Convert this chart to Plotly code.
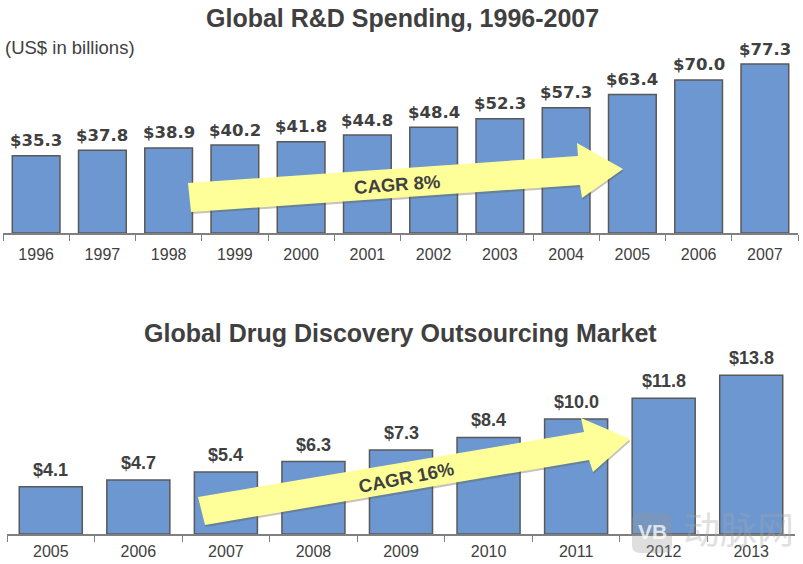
import plotly.graph_objects as go

W, H = 803, 564

rd_years = ["1996","1997","1998","1999","2000","2001","2002","2003","2004","2005","2006","2007"]
rd_values = [35.3,37.8,38.9,40.2,41.8,44.8,48.4,52.3,57.3,63.4,70.0,77.3]
market_years = ["2005","2006","2007","2008","2009","2010","2011","2012","2013"]
market_values = [4.1,4.7,5.4,6.3,7.3,8.4,10.0,11.8,13.8]

TEXT = "#404040"
BAR = "#6C97D0"
EDGE = "#595959"
ARROW = "#FFFF99"

def px(x):
    return x / W
def py(y):
    return 1 - y / H
def poly(points, **kw):
    path = "M " + " L ".join(f"{px(x):.5f},{py(y):.5f}" for x, y in points) + " Z"
    return dict(type="path", xref="paper", yref="paper", path=path, **kw)
def shifted(points, d=2):
    return [(x + d * 0.3, y + d) for x, y in points]
def rounded(x0, y0, x1, y1, r, **kw):
    p = lambda x, y: f"{px(x):.5f},{py(y):.5f}"
    path = (f"M {p(x0+r,y0)} L {p(x1-r,y0)} Q {p(x1,y0)} {p(x1,y0+r)} L {p(x1,y1-r)} Q {p(x1,y1)} {p(x1-r,y1)} "
            f"L {p(x0+r,y1)} Q {p(x0,y1)} {p(x0,y1-r)} L {p(x0,y0+r)} Q {p(x0,y0)} {p(x0+r,y0)} Z")
    return dict(type="path", xref="paper", yref="paper", path=path, **kw)
def note(text, x, y, size, bold=False, color=TEXT, xanchor="center", angle=0, opacity=1, family="Liberation Sans"):
    return dict(text=f"<b>{text}</b>" if bold else text, x=px(x), y=py(y), xref="paper", yref="paper",
                xanchor=xanchor, yanchor="middle", showarrow=False, textangle=angle, opacity=opacity,
                font=dict(family=family, size=size, color=color))
def value_labels(ys, xa, ya, size, family, shift):
    return [dict(text=f"<b>${v:.1f}</b>", x=i, y=v, xref=xa, yref=ya, yshift=shift, showarrow=False,
                 xanchor="center", yanchor="middle", font=dict(family=family, size=size, color=TEXT))
            for i, v in enumerate(ys)]

arrow_top = [(188,183),(578,156),(577,143),(623,169),(582,198),(580,185),(191,212)]
arrow_bottom = [(198,497),(584,432),(581,418),(630,439),(593,472),(589,460),(205,525)]

def bars(x, y, xa, ya):
    return go.Bar(x=x, y=y, xaxis=xa, yaxis=ya, cliponaxis=False,
                  marker=dict(color=BAR, line=dict(color=EDGE, width=1.5)), showlegend=False, hoverinfo="skip")

fig = go.Figure()
fig.add_trace(bars(rd_years, rd_values, "x", "y"))
fig.add_trace(bars(market_years, market_values, "x2", "y2"))

axis_x = dict(type="category", tickson="boundaries", ticks="outside", ticklen=6, tickwidth=1.2,
              tickcolor="#7F7F7F", showline=True, linecolor="#7F7F7F", linewidth=1.5,
              showgrid=False, zeroline=False, fixedrange=True, tickangle=0)
axis_y = dict(visible=False, showgrid=False, zeroline=False, fixedrange=True)

fig.update_layout(
    width=W, height=H, margin=dict(l=0, r=0, t=0, b=0), autosize=False,
    paper_bgcolor="white", plot_bgcolor="white", bargap=0.28, showlegend=False,
    xaxis=dict(axis_x, domain=[px(3), px(798)], anchor="y", ticklabelstandoff=6,
               range=[-0.5, len(rd_years) - 0.5],
               tickfont=dict(family="Liberation Sans", size=16, color=TEXT)),
    yaxis=dict(axis_y, domain=[py(233), py(50)], range=[0, 183 / 2.186]),
    xaxis2=dict(axis_x, domain=[px(7), px(795)], anchor="y2", ticklabelstandoff=2,
                range=[-0.5, len(market_years) - 0.5],
                tickfont=dict(family="Liberation Sans", size=16, color=TEXT)),
    yaxis2=dict(axis_y, domain=[py(534), py(350)], range=[0, 184 / 11.5]),
    shapes=[
        poly(shifted(arrow_top), fillcolor="rgba(90,90,60,0.35)", line=dict(width=0)),
        poly(arrow_top, fillcolor=ARROW, line=dict(width=0)),
        poly(shifted(arrow_bottom), fillcolor="rgba(90,90,60,0.35)", line=dict(width=0)),
        poly(arrow_bottom, fillcolor=ARROW, line=dict(width=0)),
        rounded(632, 513, 672, 553, 8, fillcolor="rgba(150,150,150,0.30)", line=dict(width=0)),
    ],
    annotations=[
        note("Global R&amp;D Spending, 1996-2007", 402, 18, 25, True),
        note("Global Drug Discovery Outsourcing Market", 400, 333, 25, True),
        note("(US$ in billions)", 3, 47, 18.5, xanchor="left"),
        note("CAGR 8%", 397, 184, 18.5, True, angle=-4),
        note("CAGR 16%", 406, 478, 18.5, True, angle=-11),
        note("VB", 652, 531, 21, True, color="#FFFFFF", opacity=0.75),
        note("动脉网", 738, 528, 37, color="#A8A8A8", opacity=0.35, family="Noto Sans CJK SC"),
    ] + value_labels(rd_values, "x", "y", 16.5, "DejaVu Sans", 15)
      + value_labels(market_values, "x2", "y2", 18, "Liberation Sans", 17),
)

fig.write_html("out.html", config=dict(displayModeBar=False), post_script="document.body.style.margin='0';")
